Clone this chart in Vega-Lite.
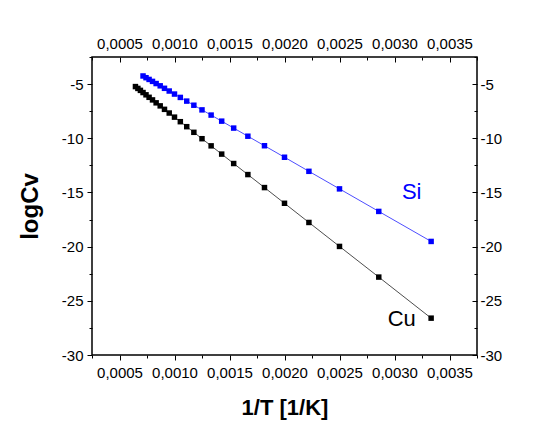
{
  "$schema": "https://vega.github.io/schema/vega-lite/v6.json",
  "width": 385,
  "height": 298,
  "autosize": {"type": "none"},
  "padding": {"left": 92, "top": 57, "right": 73, "bottom": 70},
  "background": "white",
  "config": {
    "font": "Liberation Sans",
    "view": {"stroke": "black", "strokeWidth": 1.5},
    "axis": {
      "grid": false, "domain": false, "tickColor": "black", "tickWidth": 1,
      "labelColor": "black", "labelFont": "Liberation Sans", "labelFontSize": 15,
      "labelFlush": false, "labelOverlap": false,
      "titleColor": "black", "titleFont": "Liberation Sans"
    },
    "locale": {"number": {"decimal": ",", "thousands": ".", "grouping": [3], "currency": ["", ""], "minus": "-"}}
  },
  "datasets": {
    "pts": [
      {"series": "Cu", "invT": 0.000645, "logCv": -5.23},
      {"series": "Cu", "invT": 0.000667, "logCv": -5.40},
      {"series": "Cu", "invT": 0.000690, "logCv": -5.58},
      {"series": "Cu", "invT": 0.000714, "logCv": -5.78},
      {"series": "Cu", "invT": 0.000741, "logCv": -5.99},
      {"series": "Cu", "invT": 0.000769, "logCv": -6.22},
      {"series": "Cu", "invT": 0.000800, "logCv": -6.46},
      {"series": "Cu", "invT": 0.000833, "logCv": -6.73},
      {"series": "Cu", "invT": 0.000870, "logCv": -7.01},
      {"series": "Cu", "invT": 0.000909, "logCv": -7.33},
      {"series": "Cu", "invT": 0.000952, "logCv": -7.67},
      {"series": "Cu", "invT": 0.001000, "logCv": -8.05},
      {"series": "Cu", "invT": 0.001053, "logCv": -8.47},
      {"series": "Cu", "invT": 0.001111, "logCv": -8.93},
      {"series": "Cu", "invT": 0.001176, "logCv": -9.45},
      {"series": "Cu", "invT": 0.001250, "logCv": -10.04},
      {"series": "Cu", "invT": 0.001333, "logCv": -10.70},
      {"series": "Cu", "invT": 0.001429, "logCv": -11.46},
      {"series": "Cu", "invT": 0.001538, "logCv": -12.33},
      {"series": "Cu", "invT": 0.001667, "logCv": -13.35},
      {"series": "Cu", "invT": 0.001818, "logCv": -14.55},
      {"series": "Cu", "invT": 0.002000, "logCv": -16.00},
      {"series": "Cu", "invT": 0.002222, "logCv": -17.77},
      {"series": "Cu", "invT": 0.002500, "logCv": -19.98},
      {"series": "Cu", "invT": 0.002857, "logCv": -22.81},
      {"series": "Cu", "invT": 0.003333, "logCv": -26.60},
      {"series": "Si", "invT": 0.000714, "logCv": -4.25},
      {"series": "Si", "invT": 0.000741, "logCv": -4.41},
      {"series": "Si", "invT": 0.000769, "logCv": -4.57},
      {"series": "Si", "invT": 0.000800, "logCv": -4.75},
      {"series": "Si", "invT": 0.000833, "logCv": -4.95},
      {"series": "Si", "invT": 0.000870, "logCv": -5.16},
      {"series": "Si", "invT": 0.000909, "logCv": -5.39},
      {"series": "Si", "invT": 0.000952, "logCv": -5.64},
      {"series": "Si", "invT": 0.001000, "logCv": -5.92},
      {"series": "Si", "invT": 0.001053, "logCv": -6.23},
      {"series": "Si", "invT": 0.001111, "logCv": -6.57},
      {"series": "Si", "invT": 0.001176, "logCv": -6.95},
      {"series": "Si", "invT": 0.001250, "logCv": -7.38},
      {"series": "Si", "invT": 0.001333, "logCv": -7.86},
      {"series": "Si", "invT": 0.001429, "logCv": -8.42},
      {"series": "Si", "invT": 0.001538, "logCv": -9.06},
      {"series": "Si", "invT": 0.001667, "logCv": -9.81},
      {"series": "Si", "invT": 0.001818, "logCv": -10.69},
      {"series": "Si", "invT": 0.002000, "logCv": -11.75},
      {"series": "Si", "invT": 0.002222, "logCv": -13.05},
      {"series": "Si", "invT": 0.002500, "logCv": -14.67},
      {"series": "Si", "invT": 0.002857, "logCv": -16.75},
      {"series": "Si", "invT": 0.003333, "logCv": -19.52}
    ],
    "labels": [
      {"series": "Si", "invT": 0.003156, "logCv": -14.97, "name": "Si"},
      {"series": "Cu", "invT": 0.003066, "logCv": -26.65, "name": "Cu"}
    ]
  },
  "data": {"name": "pts"},
  "layer": [
    {
      "mark": {"type": "line", "strokeWidth": 0.7},
      "encoding": {
        "x": {"field": "invT", "type": "quantitative",
              "scale": {"domain": [0.00025, 0.00375], "nice": false, "zero": false},
              "axis": {"orient": "bottom", "values": [0.0005, 0.001, 0.0015, 0.002, 0.0025, 0.003, 0.0035], "format": ".4f",
                       "tickSize": 5, "labelPadding": 5, "title": "1/T [1/K]", "titleFontSize": 22, "titleFontWeight": "bold", "titlePadding": 17}},
        "y": {"field": "logCv", "type": "quantitative",
              "scale": {"domain": [-30, -2.5], "nice": false, "zero": false},
              "axis": {"orient": "left", "values": [-30, -25, -20, -15, -10, -5], "format": "d",
                       "tickSize": 5, "labelPadding": 4, "title": "logCv", "titleFontSize": 24, "titleFontWeight": "bold", "titlePadding": 19}},
        "color": {"field": "series", "type": "nominal", "scale": {"domain": ["Cu", "Si"], "range": ["#000000", "#0000ff"]}, "legend": null}
      }
    },
    {
      "mark": {"type": "point", "shape": "square", "filled": true, "size": 30, "opacity": 1},
      "encoding": {
        "x": {"field": "invT", "type": "quantitative",
              "axis": {"orient": "bottom", "values": [0.00025, 0.00075, 0.00125, 0.00175, 0.00225, 0.00275, 0.00325, 0.00375], "labels": false, "tickSize": 3, "title": null}},
        "y": {"field": "logCv", "type": "quantitative",
              "axis": {"orient": "left", "values": [-27.5, -22.5, -17.5, -12.5, -7.5, -2.5], "labels": false, "tickSize": 3, "title": null}},
        "color": {"field": "series", "type": "nominal", "legend": null}
      }
    },
    {
      "mark": {"type": "point", "opacity": 0},
      "encoding": {
        "x": {"field": "invT", "type": "quantitative",
              "axis": {"orient": "top", "values": [0.0005, 0.001, 0.0015, 0.002, 0.0025, 0.003, 0.0035], "format": ".4f", "tickSize": -5, "labelPadding": 11, "title": null}},
        "y": {"field": "logCv", "type": "quantitative",
              "axis": {"orient": "right", "values": [-30, -25, -20, -15, -10, -5], "format": "d", "tickSize": -5, "labelPadding": 8, "title": null}}
      }
    },
    {
      "mark": {"type": "point", "opacity": 0},
      "encoding": {
        "x": {"field": "invT", "type": "quantitative",
              "axis": {"orient": "top", "values": [0.00025, 0.00075, 0.00125, 0.00175, 0.00225, 0.00275, 0.00325, 0.00375], "labels": false, "tickSize": -3, "title": null}},
        "y": {"field": "logCv", "type": "quantitative",
              "axis": {"orient": "right", "values": [-27.5, -22.5, -17.5, -12.5, -7.5, -2.5], "labels": false, "tickSize": -3, "title": null}}
      }
    },
    {
      "data": {"name": "labels"},
      "mark": {"type": "text", "fontSize": 22, "align": "center", "baseline": "middle", "font": "Liberation Sans"},
      "encoding": {
        "x": {"field": "invT", "type": "quantitative", "axis": null},
        "y": {"field": "logCv", "type": "quantitative", "axis": null},
        "text": {"field": "name"},
        "color": {"field": "series", "type": "nominal", "legend": null}
      }
    }
  ],
  "resolve": {"axis": {"x": "independent", "y": "independent"}}
}
